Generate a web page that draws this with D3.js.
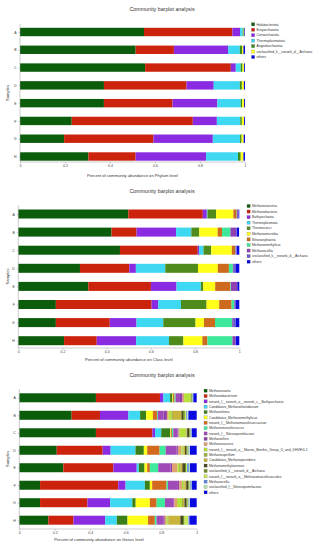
<!DOCTYPE html>
<html><head><meta charset="utf-8">
<script src="https://cdn.jsdelivr.net/npm/d3@7/dist/d3.min.js"></script>
<style>body{margin:0;background:#fff}svg{display:block}text{font-family:"Liberation Sans",Arial,sans-serif}</style>
</head><body><svg id="c" width="320" height="550"></svg>
<script>
const samples = ["A","B","C","D","E","F","G","H"];
const xTicks = [0,0.2,0.4,0.6,0.8,1];
const tickLabels = ["0","0.2","0.4","0.6","0.8","1"];

const phylumNames = ["Halobacteriota","Euryarchaeota","Crenarchaeota","Thermoplasmatota","Asgardarchaeota","unclassified_k__norank_d__Archaea","others"];
const phylumColors = ["#0b5c0b","#cc240c","#8a2be2","#3fd8f2","#3a8b1a","#ffff1a","#0a0ae0"];
const phylumValues = [
 [0.551,0.393,0.034,0.012,0.004,0.003,0.003],
 [0.514,0.170,0.241,0.052,0.010,0.006,0.007],
 [0.556,0.381,0.022,0.022,0.008,0.007,0.004],
 [0.373,0.367,0.121,0.116,0.009,0.009,0.005],
 [0.373,0.305,0.199,0.104,0.006,0.009,0.004],
 [0.230,0.538,0.107,0.104,0.007,0.010,0.004],
 [0.196,0.397,0.264,0.121,0.007,0.009,0.006],
 [0.304,0.210,0.313,0.142,0.012,0.012,0.007]
];

const classNames = ["Methanosarcinia","Methanobacteria","Bathyarchaeia","Thermoplasmata","Thermococci","Methanomicrobia","Nitrososphaeria","Methanomethylicia","Methanocellia","unclassified_k__norank_d__Archaea","others"];
const classColors = ["#0b5c0b","#cc240c","#8a2be2","#3fd8f2","#4e8b1a","#ffff1a","#cd6a1e","#3ee89a","#9040b0","#6a5acd","#0a0ae0"];
const classValues = [
 [0.498,0.337,0.018,0.003,0.039,0.078,0.015,0.002,0.005,0.002,0.003],
 [0.422,0.113,0.179,0.069,0.036,0.083,0.020,0.038,0.026,0.002,0.011],
 [0.460,0.352,0.006,0.020,0.035,0.093,0.015,0.002,0.003,0.002,0.012],
 [0.279,0.223,0.030,0.133,0.148,0.090,0.050,0.018,0.004,0.008,0.017],
 [0.317,0.283,0.116,0.110,0.011,0.054,0.068,0.003,0.029,0.000,0.009],
 [0.170,0.433,0.030,0.103,0.116,0.057,0.056,0.012,0.003,0.004,0.016],
 [0.170,0.244,0.121,0.121,0.146,0.038,0.050,0.078,0.004,0.012,0.016],
 [0.207,0.148,0.178,0.149,0.065,0.086,0.023,0.113,0.012,0.004,0.015]
];

const genusNames = ["Methanosaeta","Methanobacterium","norank_f__norank_o__norank_c__Bathyarchaeia","Candidatus_Methanofastidiosum","Methanolinea","Candidatus_Methanomethylicus","norank_f__Methanomassiliicoccaceae","Methanomassiliicoccus","norank_f__Nitrosopumilaceae","Methanothrix","Methanosarcina","norank_f__norank_o__Marine_Benthic_Group_D_and_DHVEG-1","Methanospirillum","Candidatus_Methanoperedens","Methanomethylovorans","unclassified_k__norank_d__Archaea","norank_f__norank_o__Methanomassiliicoccales","Methanocella","unclassified_f__Nitrosopumilaceae","others"];
const genusColors = ["#0b5c0b","#cc240c","#8a2be2","#3fd8f2","#3a7f1a","#ffff1a","#d2691e","#3eeb9a","#a04ab8","#8e3fa8","#e0a070","#b6e03a","#9bb23a","#c8b43a","#4a4a20","#6b8e23","#c8e85a","#5a8be8","#b5e5b5","#0a0ae0"];
const genusValues = [
 [0.432,0.361,0.019,0.038,0.013,0.004,0.008,0.006,0.020,0.019,0.009,0.038,0.002,0.002,0.002,0.002,0.002,0.002,0.002,0.019],
 [0.295,0.160,0.160,0.066,0.034,0.038,0.023,0.005,0.032,0.019,0.009,0.017,0.008,0.048,0.009,0.010,0.008,0.006,0.006,0.047],
 [0.432,0.318,0.015,0.035,0.050,0.004,0.006,0.008,0.024,0.006,0.005,0.035,0.004,0.004,0.012,0.004,0.004,0.003,0.003,0.028],
 [0.211,0.259,0.045,0.140,0.047,0.019,0.070,0.034,0.061,0.008,0.019,0.008,0.005,0.008,0.009,0.006,0.005,0.004,0.004,0.038],
 [0.248,0.282,0.132,0.012,0.032,0.015,0.015,0.047,0.070,0.008,0.030,0.010,0.008,0.010,0.015,0.006,0.006,0.010,0.006,0.038],
 [0.117,0.441,0.041,0.109,0.028,0.013,0.081,0.008,0.056,0.008,0.015,0.008,0.006,0.010,0.012,0.006,0.005,0.004,0.004,0.028],
 [0.117,0.267,0.128,0.125,0.019,0.080,0.038,0.047,0.047,0.006,0.015,0.028,0.006,0.008,0.012,0.006,0.005,0.004,0.004,0.038],
 [0.164,0.141,0.179,0.066,0.060,0.116,0.038,0.010,0.038,0.008,0.008,0.008,0.006,0.066,0.015,0.008,0.020,0.004,0.004,0.041]
];

const svg = d3.select("#c");

function panel(cfg){
  const g = svg.append("g");
  const x = d3.scaleLinear().domain([0,1]).range([cfg.x0,cfg.x1]);
  const y = d3.scalePoint().domain(samples).range([cfg.yA,cfg.yH]);
  const color = d3.scaleOrdinal().domain(cfg.names).range(cfg.colors);

  g.append("text").attr("x",162).attr("y",cfg.titleY).attr("text-anchor","middle")
   .attr("font-size",5.3).attr("fill","#333").text("Community barplot analysis");

  samples.forEach((s,i)=>{
    let acc = 0;
    cfg.values[i].forEach((v,j)=>{
      g.append("rect").attr("x",x(acc)).attr("width",Math.max(0,x(acc+v)-x(acc)))
       .attr("y",y(s)-cfg.bh/2).attr("height",cfg.bh).attr("fill",color(cfg.names[j]));
      acc += v;
    });
  });

  const xa = g.append("g").attr("transform",`translate(0,${cfg.axisY})`)
    .call(d3.axisBottom(x).tickValues(xTicks).tickFormat((d,i)=>tickLabels[i]).tickSize(1.5).tickPadding(1.5));
  xa.selectAll("path,line").attr("stroke","#999").attr("stroke-width",0.5);
  xa.selectAll("text").attr("font-size",3.5).attr("fill","#444").attr("font-family","Liberation Sans, Arial");
  xa.select(".domain").attr("d",`M${cfg.x0},0H${cfg.x1}`);

  const ya = g.append("g").attr("transform",`translate(${cfg.x0},0)`)
    .call(d3.axisLeft(y).tickSize(1.5).tickPadding(2));
  ya.selectAll("path,line").attr("stroke","#999").attr("stroke-width",0.5);
  ya.select(".domain").attr("d",`M0,${cfg.yTop}V${cfg.axisY}`);
  ya.selectAll("text").attr("font-size",3.5).attr("fill","#444").attr("font-family","Liberation Sans, Arial");

  g.append("text").attr("x",cfg.labelX).attr("y",cfg.labelY).attr("text-anchor","middle")
   .attr("font-size",4.1).attr("fill","#333").text(cfg.label);
  g.append("text").attr("transform",`translate(9,${(cfg.yTop+cfg.axisY)/2}) rotate(-90)`)
   .attr("text-anchor","middle").attr("font-size",4.1).attr("fill","#333").text("Samples");

  const lg = g.append("g");
  cfg.names.forEach((n,j)=>{
    const ly = cfg.legY + j*cfg.legStep;
    lg.append("rect").attr("x",cfg.legX).attr("y",ly-1.6).attr("width",3.2).attr("height",3.2)
      .attr("fill",color(n)).attr("stroke","#555").attr("stroke-width",0.2);
    lg.append("text").attr("x",cfg.legX+5).attr("y",ly+1.2).attr("font-size",3.4).attr("fill","#333").text(n);
  });
}

panel({names:phylumNames,colors:phylumColors,values:phylumValues,
  x0:20,x1:245,yA:32,yH:156.5,bh:8.4,axisY:162,yTop:24,titleY:11,
  label:"Percent of community abundance on Phylum level",labelX:132.5,labelY:177,
  legX:251.5,legY:24.3,legStep:5.45});
panel({names:classNames,colors:classColors,values:classValues,
  x0:18.3,x1:239.3,yA:214,yH:340.7,bh:9,axisY:348,yTop:205,titleY:192.5,
  label:"Percent of community abundance on Class level",labelX:128.8,labelY:361,
  legX:247,legY:206,legStep:5.57});
panel({names:genusNames,colors:genusColors,values:genusValues,
  x0:19.3,x1:196.7,yA:397.8,yH:520.2,bh:9,axisY:529,yTop:389,titleY:377,
  label:"Percent of community abundance on Genus level",labelX:99,labelY:541,
  legX:204,legY:390.7,legStep:5.35});
</script></body></html>
